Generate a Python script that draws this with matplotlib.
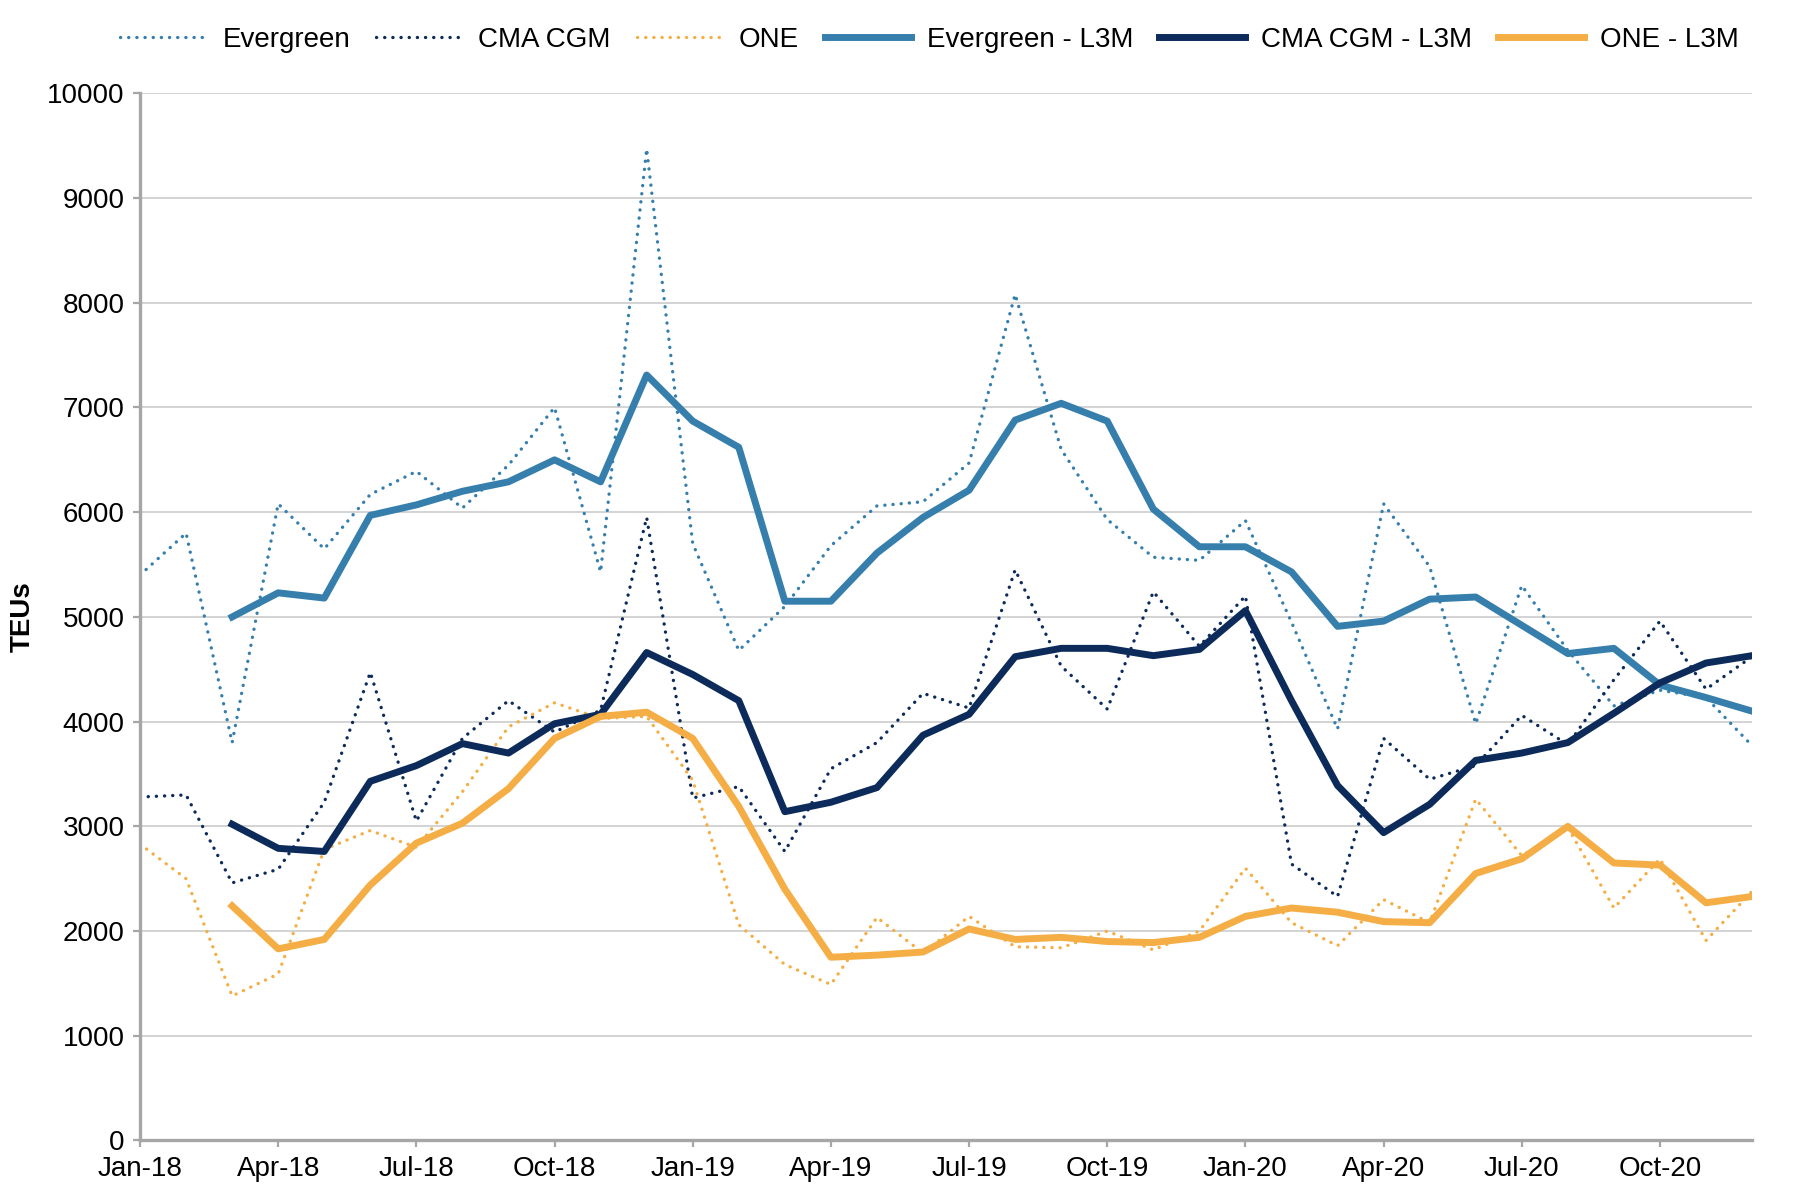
import numpy as np
import matplotlib.pyplot as plt

# months Jan-18 .. Dec-20
months = ['Jan-18', 'Feb-18', 'Mar-18', 'Apr-18', 'May-18', 'Jun-18', 'Jul-18', 'Aug-18', 'Sep-18',
          'Oct-18', 'Nov-18', 'Dec-18', 'Jan-19', 'Feb-19', 'Mar-19', 'Apr-19', 'May-19', 'Jun-19',
          'Jul-19', 'Aug-19', 'Sep-19', 'Oct-19', 'Nov-19', 'Dec-19', 'Jan-20', 'Feb-20', 'Mar-20',
          'Apr-20', 'May-20', 'Jun-20', 'Jul-20', 'Aug-20', 'Sep-20', 'Oct-20', 'Nov-20', 'Dec-20']

# monthly TEUs
evergreen = [5400, 5800, 3800, 6080, 5650, 6170, 6390, 6040, 6450, 7000, 5430, 9470,
             5700, 4680, 5100, 5680, 6060, 6100, 6470, 8080, 6600, 5930, 5570, 5540,
             5920, 4950, 3930, 6080, 5480, 3980, 5300, 4680, 4150, 4300, 4230, 3770]
cma_cgm = [3280, 3300, 2460, 2590, 3230, 4470, 3050, 3840, 4200, 3900, 4110, 5950,
           3270, 3380, 2760, 3550, 3800, 4270, 4130, 5450, 4530, 4120, 5240, 4720,
           5200, 2640, 2330, 3840, 3450, 3580, 4060, 3780, 4400, 4960, 4310, 4620]
one = [2830, 2500, 1380, 1590, 2780, 2960, 2800, 3330, 3950, 4180, 4030, 4050,
       3440, 2060, 1680, 1490, 2130, 1790, 2140, 1850, 1840, 2000, 1820, 2000,
       2600, 2080, 1860, 2300, 2080, 3260, 2720, 2990, 2220, 2690, 1910, 2380]

# last-3-month averages (start in Mar-18)
nan = np.nan
evergreen_l3m = [nan, nan, 5000, 5230, 5180, 5970, 6070, 6200, 6290, 6500, 6290, 7310,
                 6870, 6620, 5150, 5150, 5610, 5950, 6210, 6880, 7040, 6870, 6030, 5670,
                 5670, 5430, 4910, 4960, 5170, 5190, 4920, 4650, 4700, 4350, 4230, 4100]
cma_cgm_l3m = [nan, nan, 3020, 2790, 2760, 3430, 3580, 3790, 3700, 3980, 4070, 4660,
               4450, 4200, 3140, 3230, 3370, 3870, 4070, 4620, 4700, 4700, 4630, 4690,
               5060, 4200, 3390, 2940, 3210, 3630, 3700, 3800, 4080, 4370, 4560, 4630]
one_l3m = [nan, nan, 2240, 1830, 1920, 2440, 2840, 3030, 3360, 3840, 4050, 4090,
           3840, 3190, 2400, 1750, 1770, 1800, 2020, 1920, 1940, 1900, 1890, 1940,
           2140, 2220, 2180, 2090, 2080, 2550, 2690, 3000, 2650, 2630, 2270, 2330]

c_ever = '#367fad'
c_cma = '#0c2b5b'
c_one = '#f4ae45'

plt.rcParams['font.family'] = ['Liberation Sans', 'DejaVu Sans']

x = np.arange(len(months))

fig = plt.figure(figsize=(18.16, 12), dpi=100)
ax = fig.add_axes([0.0771, 0.0496, 0.8877, 0.8726])

# dotted monthly series
dots = (0, (0.05, 2.4))
for vals, col, name in [(evergreen, c_ever, 'Evergreen'), (cma_cgm, c_cma, 'CMA CGM'), (one, c_one, 'ONE')]:
    ax.plot(x, vals, color=col, lw=2.4, ls=dots, dash_capstyle='round', label=name)

# solid L3M series
ax.plot(x, evergreen_l3m, color=c_ever, lw=5, label='Evergreen - L3M')
ax.plot(x, cma_cgm_l3m, color=c_cma, lw=5, label='CMA CGM - L3M')
ax.plot(x, one_l3m, color=c_one, lw=5, label='ONE - L3M')

ax.set_xlim(0, len(months) - 1)
ax.set_ylim(0, 10000)
ax.set_yticks(np.arange(0, 10001, 1000))
ax.set_xticks(x[::3])
ax.set_xticklabels(months[::3], fontsize=20)
ax.tick_params(axis='y', labelsize=20)

ax.grid(axis='y', color='#d0d0d0', lw=1.3)
ax.set_axisbelow(True)
for s in ['top', 'right']:
    ax.spines[s].set_visible(False)
for s in ['left', 'bottom']:
    ax.spines[s].set_color('#a6a6a6')
    ax.spines[s].set_linewidth(2.4)
ax.tick_params(axis='both', colors='#a6a6a6', labelcolor='black', length=5, width=1.6)
ax.tick_params(axis='x', pad=6)
ax.tick_params(axis='y', pad=6)

fig.text(0.0125, 0.486, 'TEUs', rotation=90, ha='center', va='center', fontsize=20, fontweight='bold')

fig.legend(loc='center', bbox_to_anchor=(0.512, 0.967), ncol=6, frameon=False,
           fontsize=20, handlelength=3.1, columnspacing=0.93, handletextpad=0.58)

fig.savefig('out.png', dpi=100)
